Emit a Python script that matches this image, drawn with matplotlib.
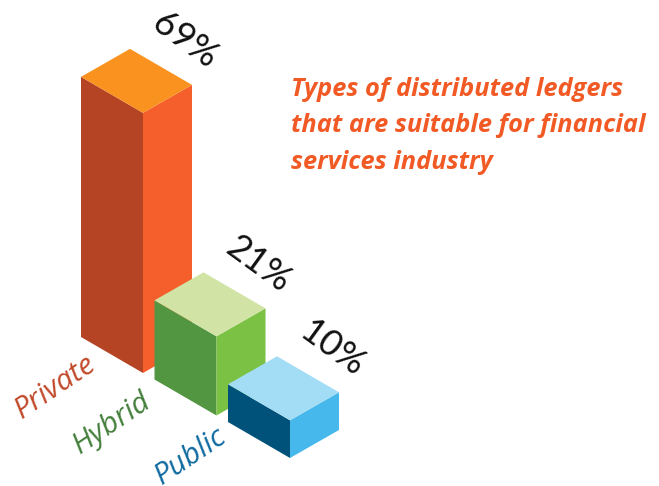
import matplotlib
matplotlib.use('Agg')
import matplotlib.pyplot as plt
from matplotlib.patches import Polygon

categories = ['Private', 'Hybrid', 'Public']
values = [69, 21, 10]
value_labels = ['69%', '21%', '10%']
top_colors = ['#F9921E', '#D1E4A6', '#A2DCF5']
left_colors = ['#B54425', '#529642', '#00527A']
right_colors = ['#F55F2C', '#7BC143', '#46B8EC']
label_colors = ['#C1492A', '#437F3A', '#0F6AA0']
title_lines = ['Types of distributed ledgers',
               'that are suitable for financial',
               'services industry']

PX_PER_UNIT = 3.77
LEFT_EDGE = (-62, -36)
RIGHT_EDGE = (49, -28)
FIRST_CORNER = (143, 373)
STEP = (73.5, 42.5)
# category names do not follow the column spacing exactly
NAME_OFFSETS = [(-88, 14), (-104, 8), (-99, -2)]


def draw_box(ax, x0, y0, h, top, left, right):
    """Isometric column whose nearest ground corner sits at x0, y0"""
    lx, ly = LEFT_EDGE
    rx, ry = RIGHT_EDGE
    yt = y0 - h
    ax.add_patch(Polygon([(x0, y0), (x0 + lx, y0 + ly), (x0 + lx, yt + ly), (x0, yt)],
                         facecolor=left, edgecolor='none'))
    ax.add_patch(Polygon([(x0, y0), (x0 + rx, y0 + ry), (x0 + rx, yt + ry), (x0, yt)],
                         facecolor=right, edgecolor='none'))
    ax.add_patch(Polygon([(x0, yt), (x0 + lx, yt + ly), (x0 + lx + rx, yt + ly + ry),
                          (x0 + rx, yt + ry)], facecolor=top, edgecolor='none'))


fig = plt.figure(figsize=(6.59, 4.86), dpi=100)
ax = fig.add_axes([0, 0, 1, 1])
ax.set_xlim(0, 659)
ax.set_ylim(486, 0)
ax.axis('off')

for i, val in enumerate(values):
    x0 = FIRST_CORNER[0] + STEP[0] * i
    y0 = FIRST_CORNER[1] + STEP[1] * i
    h = val * PX_PER_UNIT
    draw_box(ax, x0, y0, h, top_colors[i], left_colors[i], right_colors[i])

    # category name runs along the ground, value label floats over the back corner
    dx, dy = NAME_OFFSETS[i]
    ax.text(x0 + dx, y0 + dy, categories[i], rotation=34, rotation_mode='anchor',
            ha='center', va='center', fontsize=21.5, family='Open Sans', style='italic',
            color=label_colors[i])
    ax.text(x0 + 42, y0 - h - 72, value_labels[i], rotation=-36, rotation_mode='anchor',
            ha='center', va='center', fontsize=26, family='Lato', color='#111111')

for n, line in enumerate(title_lines):
    ax.text(291, 89 + 36.5 * n, line, ha='left', va='center', fontsize=18.3,
            family='Open Sans', style='italic', fontweight='bold', color='#F15A24')

fig.savefig('out.png', dpi=100)
